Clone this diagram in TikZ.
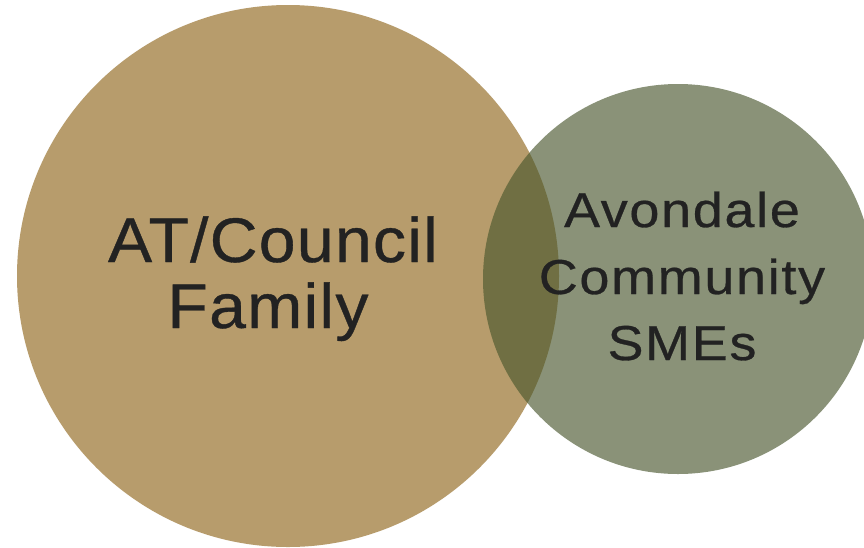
\documentclass[tikz,border=0pt]{standalone}
\usepackage{fontspec}
\setmainfont{Liberation Sans}
\newfontfamily\leftfont[LetterSpace=2,FakeStretch=1.05,FakeBold=0.6]{Liberation Sans}
\newfontfamily\rightfont[LetterSpace=3.5,FakeStretch=1.1,FakeBold=0.6]{Liberation Sans}
\definecolor{tan}{RGB}{183,156,108}
\definecolor{olive}{RGB}{72,86,44}
\definecolor{ink}{RGB}{34,34,34}
\tikzset{
  bigtxt/.style={anchor=base, inner sep=0pt, text=ink, font=\leftfont\fontsize{63}{66}\selectfont},
  smalltxt/.style={anchor=base, inner sep=0pt, text=ink, font=\rightfont\fontsize{49}{66}\selectfont}
}
\begin{document}
\begin{tikzpicture}[x=1pt,y=-1pt]
\useasboundingbox (0,0) rectangle (864,547);
\clip (0,0) rectangle (864,547);
\fill[white] (0,0) rectangle (864,547);
\fill[tan] (288,276) circle[radius=271];
\fill[olive, fill opacity=0.64] (678,279) circle[radius=195];
\node[bigtxt] (l1) at (273,262) {AT/Council};
\node[bigtxt] (l2) at (268,328) {Family};
\node[smalltxt] (r1) at (682,227) {Avondale};
\node[smalltxt] (r2) at (682,294) {Community};
\node[smalltxt] (r3) at (682,360) {SMEs};
\end{tikzpicture}
\end{document}
